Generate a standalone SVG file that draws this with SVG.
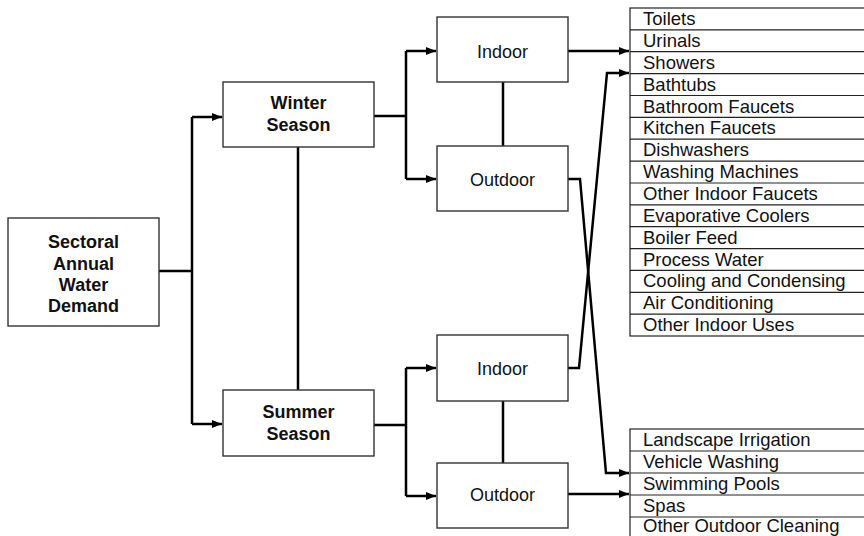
<svg xmlns="http://www.w3.org/2000/svg" width="864" height="536" viewBox="0 0 864 536">
<defs>
<marker id="ah" viewBox="0 0 10 8" refX="10" refY="4" markerWidth="10" markerHeight="8" markerUnits="userSpaceOnUse" orient="auto">
<path d="M0,0 L10,4 L0,8 Z" fill="#000"/>
</marker>
<style>
.box{fill:#fff;stroke:#333;stroke-width:1.4}
.lst{fill:#fff;stroke:#222;stroke-width:1.2}
.sep{stroke:#222;stroke-width:1.2}
.bt{font-family:"Liberation Sans",Arial,sans-serif;font-size:18px;font-weight:bold;text-anchor:middle;fill:#111}
.nt{font-family:"Liberation Sans",Arial,sans-serif;font-size:18px;text-anchor:middle;fill:#111}
.lt{font-family:"Liberation Sans",Arial,sans-serif;font-size:18.5px;fill:#111}
.c{fill:none;stroke:#000;stroke-width:2.5}
.ca{fill:none;stroke:#000;stroke-width:2.5;marker-end:url(#ah)}
</style>
</defs>
<rect width="864" height="536" fill="#fff"/>
<g id="connectors">
<path class="c" d="M159,271 H192 M192,117 V424"/>
<path class="ca" d="M192,117 H222"/>
<path class="ca" d="M192,424 H222"/>
<path class="c" d="M298,147 V390"/>
<path class="c" d="M374,116 H406 M406,51 V179"/>
<path class="ca" d="M406,51 H436"/>
<path class="ca" d="M406,179 H436"/>
<path class="c" d="M374,425 H406 M406,368 V496"/>
<path class="ca" d="M406,368 H436"/>
<path class="ca" d="M406,496 H436"/>
<path class="c" d="M503,82 V146"/>
<path class="c" d="M503,401 V463"/>
<path class="ca" d="M568,51 H629"/>
<path class="ca" d="M568,368 H579 L607,73 H629"/>
<path class="ca" d="M568,179 H580 L606,473 H629"/>
<path class="ca" d="M568,494 H629"/>
</g>
<g id="sectoral">
<rect class="box" x="8" y="218" width="151" height="108"/>
<text class="bt" x="83.5" y="248">Sectoral</text>
<text class="bt" x="83.5" y="269.5">Annual</text>
<text class="bt" x="83.5" y="291">Water</text>
<text class="bt" x="83.5" y="312">Demand</text>
</g>
<g id="winter">
<rect class="box" x="223" y="82" width="151" height="65"/>
<text class="bt" x="298.5" y="109">Winter</text>
<text class="bt" x="298.5" y="131">Season</text>
</g>
<g id="summer">
<rect class="box" x="223" y="390" width="151" height="66"/>
<text class="bt" x="298.5" y="418">Summer</text>
<text class="bt" x="298.5" y="440">Season</text>
</g>
<g id="winter-indoor">
<rect class="box" x="437" y="17" width="131" height="65"/>
<text class="nt" x="502.5" y="57.5">Indoor</text>
</g>
<g id="winter-outdoor">
<rect class="box" x="437" y="146" width="131" height="65"/>
<text class="nt" x="502.5" y="186">Outdoor</text>
</g>
<g id="summer-indoor">
<rect class="box" x="437" y="335" width="131" height="66"/>
<text class="nt" x="502.5" y="375">Indoor</text>
</g>
<g id="summer-outdoor">
<rect class="box" x="437" y="463" width="131" height="65"/>
<text class="nt" x="502.5" y="501">Outdoor</text>
</g>
<g id="indoor-uses">
<rect class="lst" x="630" y="8" width="240" height="328"/>
<path class="sep" d="M630,29.9H870M630,51.7H870M630,73.6H870M630,95.5H870M630,117.3H870M630,139.2H870M630,161.1H870M630,183H870M630,204.8H870M630,226.7H870M630,248.6H870M630,270.4H870M630,292.3H870M630,314.2H870"/>
<text class="lt" x="643" y="25">Toilets</text>
<text class="lt" x="643" y="46.9">Urinals</text>
<text class="lt" x="643" y="68.7">Showers</text>
<text class="lt" x="643" y="90.6">Bathtubs</text>
<text class="lt" x="643" y="112.5">Bathroom Faucets</text>
<text class="lt" x="643" y="134.3">Kitchen Faucets</text>
<text class="lt" x="643" y="156.2">Dishwashers</text>
<text class="lt" x="643" y="178.1">Washing Machines</text>
<text class="lt" x="643" y="200">Other Indoor Faucets</text>
<text class="lt" x="643" y="221.8">Evaporative Coolers</text>
<text class="lt" x="643" y="243.7">Boiler Feed</text>
<text class="lt" x="643" y="265.6">Process Water</text>
<text class="lt" x="643" y="287.4">Cooling and Condensing</text>
<text class="lt" x="643" y="309.3">Air Conditioning</text>
<text class="lt" x="643" y="331.2">Other Indoor Uses</text>
</g>
<g id="outdoor-uses">
<rect class="lst" x="630" y="429" width="240" height="120"/>
<path class="sep" d="M630,451H870M630,473H870M630,495H870M630,517H870"/>
<text class="lt" x="643" y="446">Landscape Irrigation</text>
<text class="lt" x="643" y="468">Vehicle Washing</text>
<text class="lt" x="643" y="490">Swimming Pools</text>
<text class="lt" x="643" y="512">Spas</text>
<text class="lt" x="643" y="532">Other Outdoor Cleaning</text>
</g>
</svg>
